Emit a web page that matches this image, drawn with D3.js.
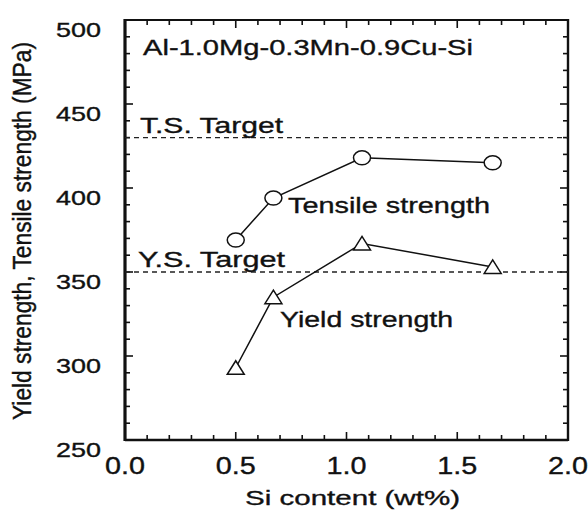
<!DOCTYPE html>
<html>
<head>
<meta charset="utf-8">
<script src="https://cdn.jsdelivr.net/npm/d3@7"></script>
<style>
  html, body { margin: 0; padding: 0; background: #fff; }
  svg { display: block; }
  text { font-family: "Liberation Sans", Arial, Helvetica, sans-serif; fill: #111; stroke: #111; stroke-width: 0.35px; }
</style>
</head>
<body>
<svg id="chart" width="588" height="514"></svg>
<script>
// Si content (wt%) of the alloys tested
const siContent = [0.5, 0.67, 1.07, 1.66];
// Strengths in MPa
const tensileStrength = [369, 394, 418, 415];
const yieldStrength = [293, 335, 367, 353];
// Target levels in MPa
const tsTarget = 430;
const ysTarget = 350;

const xMajorTicks = [0, 0.5, 1.0, 1.5, 2.0];
const xTickLabels = ["0.0", "0.5", "1.0", "1.5", "2.0"];
const yMajorTicks = [250, 300, 350, 400, 450, 500];
const yTickLabels = ["250", "300", "350", "400", "450", "500"];

const svg = d3.select("#chart");
const plotL = 125, plotR = 568, plotT = 20, plotB = 440;

const x = d3.scaleLinear().domain([0, 2]).range([plotL, plotR]);
const y = d3.scaleLinear().domain([250, 500]).range([plotB, plotT]);

const xAll = d3.range(0, 21).map(i => i / 10);
const yAll = d3.range(0, 26).map(i => 250 + i * 10);
const isMajorX = v => Math.abs(v * 2 - Math.round(v * 2)) < 1e-6;
const isMajorY = v => v % 50 === 0;

function stretchText(sel, len) {
  sel.attr("textLength", len).attr("lengthAdjust", "spacingAndGlyphs");
}

const tickG = svg.append("g").attr("stroke", "#111").attr("stroke-width", 1.6);

// inward ticks on bottom and top edges
[[plotB, -1], [plotT, 1]].forEach(([edge, dir]) => {
  tickG.append("g").selectAll("line").data(xAll).join("line")
    .attr("x1", d => x(d)).attr("x2", d => x(d))
    .attr("y1", edge).attr("y2", d => edge + dir * (isMajorX(d) ? 8 : 5));
});
// inward ticks on left and right edges
[[plotL, 1], [plotR, -1]].forEach(([edge, dir]) => {
  tickG.append("g").selectAll("line").data(yAll).join("line")
    .attr("y1", d => y(d)).attr("y2", d => y(d))
    .attr("x1", edge).attr("x2", d => edge + dir * (isMajorY(d) ? 8 : 5));
});

// tick labels
svg.append("g").selectAll("text").data(xMajorTicks).join("text")
  .attr("x", d => x(d)).attr("y", plotB + 34)
  .attr("text-anchor", "middle")
  .attr("font-size", 24)
  .text((d, i) => xTickLabels[i])
  .each(function () { stretchText(d3.select(this), 40); });

svg.append("g").selectAll("text").data(yMajorTicks).join("text")
  .attr("x", plotL - 24).attr("y", d => y(d) + 17)
  .attr("text-anchor", "end")
  .attr("font-size", 21)
  .text((d, i) => yTickLabels[i])
  .each(function () { stretchText(d3.select(this), 45); });

// frame
svg.append("line").attr("x1", plotL).attr("x2", plotR).attr("y1", plotT).attr("y2", plotT)
  .attr("stroke", "#111").attr("stroke-width", 2.2);
svg.append("line").attr("x1", plotL).attr("x2", plotR).attr("y1", plotB).attr("y2", plotB)
  .attr("stroke", "#111").attr("stroke-width", 2.6);
svg.append("line").attr("x1", plotL).attr("x2", plotL).attr("y1", plotT - 1).attr("y2", plotB + 1)
  .attr("stroke", "#111").attr("stroke-width", 3.2);
svg.append("line").attr("x1", plotR).attr("x2", plotR).attr("y1", plotT - 1).attr("y2", plotB + 1)
  .attr("stroke", "#111").attr("stroke-width", 2.4);

// target lines
[tsTarget, ysTarget].forEach(v => {
  svg.append("line")
    .attr("x1", plotL).attr("x2", plotR)
    .attr("y1", y(v)).attr("y2", y(v))
    .attr("stroke", "#222").attr("stroke-width", 1.4)
    .attr("stroke-dasharray", "5,4");
});

// data lines
const line = d3.line().x(d => x(d[0])).y(d => y(d[1]));
const tsPts = siContent.map((s, i) => [s, tensileStrength[i]]);
const ysPts = siContent.map((s, i) => [s, yieldStrength[i]]);

[tsPts, ysPts].forEach(pts => {
  svg.append("path").datum(pts).attr("d", line)
    .attr("fill", "none").attr("stroke", "#111").attr("stroke-width", 1.5);
});

// open circles for tensile strength
svg.selectAll(".ts").data(tsPts).join("ellipse")
  .attr("class", "ts")
  .attr("cx", d => x(d[0])).attr("cy", d => y(d[1]))
  .attr("rx", 8.5).attr("ry", 7)
  .attr("fill", "#fff").attr("stroke", "#111").attr("stroke-width", 1.5);

// open triangles for yield strength
svg.selectAll(".ys").data(ysPts).join("path")
  .attr("class", "ys")
  .attr("transform", d => `translate(${x(d[0])},${y(d[1])})`)
  .attr("d", "M-8.5,6.5L8.5,6.5L0,-7Z")
  .attr("fill", "#fff").attr("stroke", "#111").attr("stroke-width", 1.5)
  .attr("stroke-linejoin", "miter");

// annotations
function label(txt, x0, base, len, size) {
  const t = svg.append("text").attr("x", x0).attr("y", base)
    .attr("font-size", size).text(txt);
  stretchText(t, len);
  return t;
}
label("Al-1.0Mg-0.3Mn-0.9Cu-Si", 143, 55, 330, 22);
label("T.S. Target", 140, 133, 143, 22);
label("Y.S. Target", 138, 267, 147, 22);
label("Tensile strength", 288, 213, 202, 22);
label("Yield strength", 280, 327, 173, 22);

// axis titles
label("Si content (wt%)", 245, 505, 215, 21);
svg.append("text")
  .attr("transform", "translate(31,231) scale(1.15,1) rotate(-90)")
  .attr("text-anchor", "middle")
  .attr("font-size", 22)
  .attr("textLength", 378).attr("lengthAdjust", "spacingAndGlyphs")
  .text("Yield strength, Tensile strength (MPa)");
</script>
</body>
</html>
